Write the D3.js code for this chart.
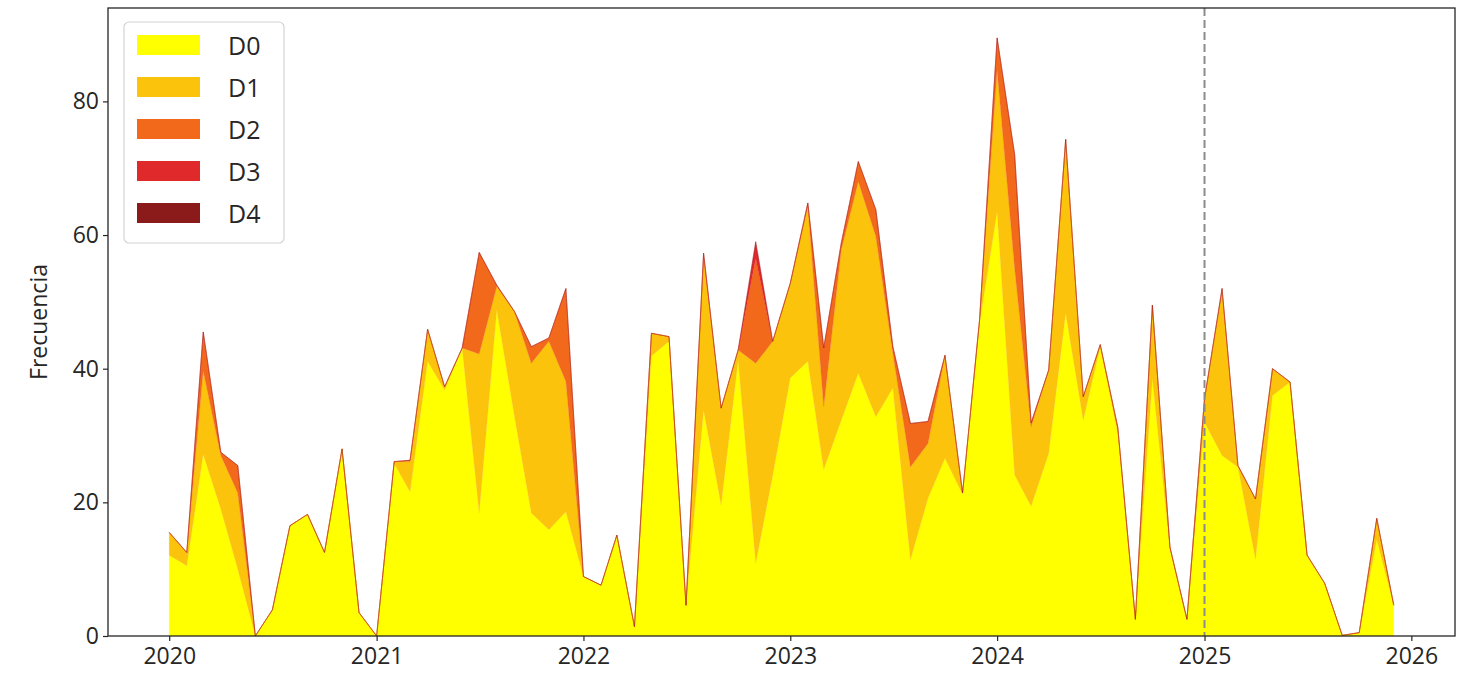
<!DOCTYPE html>
<html>
<head>
<meta charset="utf-8">
<script src="https://cdn.jsdelivr.net/npm/d3@7"></script>
<style>
  body { margin: 0; background: #fff; }
  svg text { font-family: "Open Sans", sans-serif; fill: #262626; }
</style>
</head>
<body>
<div id="chart"></div>
<script>
// ---- data ----
const categories = ['D0', 'D1', 'D2', 'D3', 'D4'];
const colors = ['#ffff00', '#fbc30b', '#f2691b', '#e0292b', '#8b1a1a'];

// monthly values, Jan 2020 .. Dec 2025
const firstMonth = new Date(2020, 0, 1);
const lastMonth = new Date(2025, 11, 1);

const d0 = [
  12.1, 10.5, 27.2, 19.0, 10.0, 0, 3.9, 16.5, 18.2, 12.5, 28.0, 3.5,
  0, 25.8, 21.6, 41.1, 36.8, 43.1, 18.4, 48.8, 33.0, 18.4, 15.9, 18.6,
  8.9, 7.6, 15.1, 1.4, 41.9, 44.1, 4.6, 33.8, 19.6, 41.3, 10.9, 24.0,
  38.6, 41.1, 24.9, 32.3, 39.3, 32.8, 37.1, 11.4, 20.6, 26.6, 21.2, 46.8,
  63.5, 24.1, 19.4, 27.3, 48.3, 32.3, 43.3, 30.2, 2.5, 38.5, 13.0, 2.5,
  32.0, 27.0, 25.3, 11.5, 36.0, 38.0, 12.1, 7.9, 0.1, 0.5, 14.4, 4.6
];
const d1 = [
  3.4, 2.0, 12.5, 8.0, 11.4, 0, 0, 0, 0, 0, 0, 0,
  0, 0.3, 4.5, 4.8, 0.5, 0, 23.8, 3.5, 15.6, 22.4, 28.2, 19.5,
  0, 0, 0, 0, 3.4, 0.7, 0, 22.7, 14.5, 1.5, 29.9, 20.1,
  14.2, 23.2, 9.4, 25.5, 28.7, 27.0, 5.2, 13.9, 8.2, 15.4, 0.2, 0.5,
  21.2, 30.9, 11.9, 12.5, 26.0, 3.5, 0.3, 1.0, 0, 11.0, 0.3, 0,
  3.5, 24.5, 0.2, 9.0, 4.0, 0, 0, 0, 0, 0, 3.2, 0
];
const d2 = [
  0, 0, 5.8, 0.5, 4.1, 0, 0, 0, 0, 0, 0, 0,
  0, 0, 0.2, 0, 0, 0, 15.2, 0.2, 0, 2.5, 0.5, 13.9,
  0, 0, 0, 0, 0, 0, 0, 0.8, 0, 0, 15.7, 0,
  0, 0.5, 8.8, 1.0, 3.0, 4.0, 1.0, 6.5, 3.3, 0, 0, 0,
  4.8, 17.0, 0.6, 0, 0, 0, 0, 0, 0, 0, 0, 0,
  0, 0.5, 0, 0, 0, 0, 0, 0, 0, 0, 0, 0
];
const d3v = [
  0, 0, 0, 0, 0, 0, 0, 0, 0, 0, 0, 0,
  0, 0, 0, 0, 0, 0, 0, 0, 0, 0, 0, 0,
  0, 0, 0, 0, 0, 0, 0, 0, 0, 0, 2.5, 0,
  0, 0, 0, 0, 0, 0, 0, 0, 0, 0, 0, 0,
  0, 0, 0, 0, 0, 0, 0, 0, 0, 0, 0, 0,
  0, 0, 0, 0, 0, 0, 0, 0, 0, 0, 0, 0
];
const d4 = [
  0, 0, 0, 0, 0, 0, 0, 0, 0, 0, 0, 0,
  0, 0, 0, 0, 0, 0, 0, 0, 0, 0, 0, 0,
  0, 0, 0, 0, 0, 0, 0, 0, 0, 0, 0, 0,
  0, 0, 0, 0, 0, 0, 0, 0, 0, 0, 0, 0,
  0, 0, 0, 0, 0, 0, 0, 0, 0, 0, 0, 0,
  0, 0, 0, 0, 0, 0, 0, 0, 0, 0, 0, 0
];

const yTicks = [0, 20, 40, 60, 80];
const xTickYears = [2020, 2021, 2022, 2023, 2024, 2025, 2026];
const markerDate = new Date(2025, 0, 1);
const yLabel = 'Frecuencia';

// ---- layout ----
const outerW = 1460, outerH = 682;
const margin = { left: 108, right: 5, top: 8, bottom: 46 };
const w = outerW - margin.left - margin.right;
const h = outerH - margin.top - margin.bottom;

const months = d3.timeMonth.range(firstMonth, d3.timeMonth.offset(lastMonth, 1));
const series = [d0, d1, d2, d3v, d4];
const table = months.map((date, i) => {
  const row = { date: date };
  categories.forEach((c, k) => { row[c] = series[k][i]; });
  return row;
});

const stacked = d3.stack().keys(categories)(table);

// matplotlib-like 5% margins on x
const t0 = +firstMonth, t1 = +lastMonth, pad = (t1 - t0) * 0.05;
const x = d3.scaleTime().domain([new Date(t0 - pad), new Date(t1 + pad)]).range([0, w]);
const yMax = d3.max(stacked[stacked.length - 1], d => d[1]) * 1.05;
const y = d3.scaleLinear().domain([0, yMax]).range([h, 0]);

const svg = d3.select('#chart').append('svg')
  .attr('width', outerW)
  .attr('height', outerH);

const g = svg.append('g')
  .attr('transform', 'translate(' + margin.left + ',' + margin.top + ')');

const area = d3.area()
  .x(d => x(d.data.date))
  .y0(d => y(d[0]))
  .y1(d => y(d[1]));

g.selectAll('.layer')
  .data(stacked)
  .enter().append('path')
  .attr('class', 'layer')
  .attr('d', area)
  .style('fill', (d, i) => colors[i])
  .style('stroke', (d, i) => colors[i])
  .style('stroke-width', 0.5)
  .style('stroke-opacity', 0.45);

// dashed marker line
g.append('line')
  .attr('x1', x(markerDate)).attr('x2', x(markerDate))
  .attr('y1', 0).attr('y2', h)
  .style('stroke', '#8c8c8c')
  .style('stroke-width', 2)
  .style('stroke-dasharray', '8,4');

// axes
const xAxis = g.append('g')
  .attr('transform', 'translate(0,' + h + ')')
  .call(d3.axisBottom(x)
    .tickValues(xTickYears.map(yr => new Date(yr, 0, 1)))
    .tickFormat(d3.timeFormat('%Y'))
    .tickSize(5)
    .tickSizeOuter(0)
    .tickPadding(7));

const yAxis = g.append('g')
  .call(d3.axisLeft(y)
    .tickValues(yTicks)
    .tickSize(5)
    .tickSizeOuter(0)
    .tickPadding(4));

[xAxis, yAxis].forEach(a => {
  a.select('.domain').remove();
  a.selectAll('.tick line').style('stroke', '#262626').style('stroke-width', 1.2);
  a.selectAll('.tick text').style('font-size', '23px').style('font-family', '"Open Sans", sans-serif').style('fill', '#262626');
});

// frame
g.append('rect')
  .attr('width', w).attr('height', h)
  .style('fill', 'none')
  .style('stroke', '#262626')
  .style('stroke-width', 1.3);

// y label
svg.append('text')
  .attr('transform', 'translate(38,' + (margin.top + h / 2) + ') rotate(-90)')
  .attr('text-anchor', 'middle')
  .attr('dominant-baseline', 'central')
  .style('font-size', '23px')
  .text(yLabel);

// legend
const legend = svg.append('g').attr('transform', 'translate(124,22)');
legend.append('rect')
  .attr('width', 160).attr('height', 221)
  .attr('rx', 5)
  .style('fill', '#fff')
  .style('fill-opacity', 0.8)
  .style('stroke', '#d4d4d4')
  .style('stroke-width', 1.2);

const items = legend.selectAll('.item')
  .data(categories)
  .enter().append('g')
  .attr('class', 'item')
  .attr('transform', (d, i) => 'translate(0,' + (23 + i * 42) + ')');

items.append('rect')
  .attr('x', 13).attr('y', -10)
  .attr('width', 63).attr('height', 20)
  .style('fill', (d, i) => colors[i]);

items.append('text')
  .attr('x', 104)
  .attr('dominant-baseline', 'central')
  .style('font-size', '25px')
  .text(d => d);
</script>
</body>
</html>
